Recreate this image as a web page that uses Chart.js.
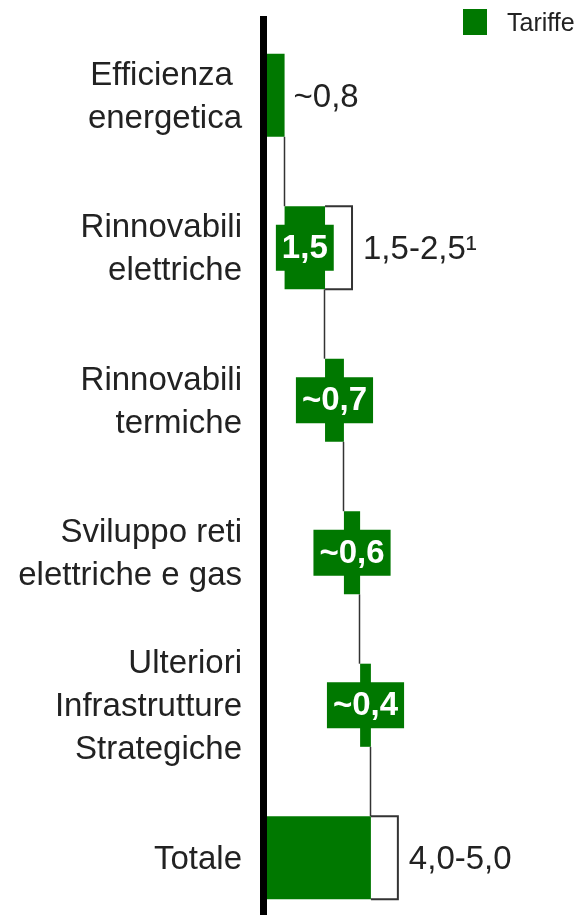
<!DOCTYPE html>
<html>
<head>
<meta charset="utf-8">
<script src="https://cdn.jsdelivr.net/npm/chart.js@4/dist/chart.umd.min.js"></script>
<style>
  body { margin: 0; background: #fff; overflow: hidden; }
  #wrap { position: relative; width: 584px; height: 934px; }
  #legend { position: absolute; left: 463px; top: 9px; height: 26px; display: flex; align-items: center;
            font-family: "Liberation Sans", Arial, sans-serif; font-size: 25px; color: #222; }
  #legend span.box { width: 24px; height: 26px; background: #007800; margin-right: 20px; }
</style>
</head>
<body>
<div id="wrap">
  <canvas id="myChart" width="584" height="934"></canvas>
  <div id="legend"><span class="box"></span><span>Tariffe</span></div>
</div>
<script>
const categories = [
  ['Efficienza ', 'energetica'],
  ['Rinnovabili', 'elettriche'],
  ['Rinnovabili', 'termiche'],
  ['Sviluppo reti', 'elettriche e gas'],
  ['Ulteriori', 'Infrastrutture', 'Strategiche'],
  ['Totale']
]
const steps = [0.8, 1.5, 0.7, 0.6, 0.4]
const total = 4.0
const valueLabels = ['~0,8', '1,5', '~0,7', '~0,6', '~0,4', '']
const rangeHigh = [null, 2.5, null, null, null, 5.0]
const rangeLabels = [null, '1,5-2,5\u00b9', null, null, null, '4,0-5,0']

const GREEN = '#007800'
const FONT = '"Liberation Sans", Arial, sans-serif'

// floating bars: each step starts where the previous one ended
let run = 0
const floating = steps.map(v => {
  const seg = [run, Math.round((run + v) * 100) / 100]
  run = seg[1]
  return seg
})
floating.push([0, total])

const stepPlugin = {
  id: 'steps',
  afterDatasetsDraw(chart) {
    const {ctx, scales: {x}} = chart
    const bars = chart.getDatasetMeta(0).data
    ctx.save()

    // connectors between steps
    ctx.strokeStyle = '#333'
    ctx.lineWidth = 1.5
    for (let i = 0; i < bars.length - 1; i++) {
      const a = bars[i].getProps(['x', 'y', 'height'], true)
      const b = bars[i + 1].getProps(['x', 'y', 'height'], true)
      const px = Math.round(a.x) - 0.5
      ctx.beginPath()
      ctx.moveTo(px, a.y + a.height / 2)
      ctx.lineTo(px, b.y - b.height / 2)
      ctx.stroke()
    }

    ctx.textBaseline = 'middle'
    bars.forEach((bar, i) => {
      const p = bar.getProps(['x', 'y', 'base', 'height'], true)
      const label = valueLabels[i]
      if (label && i === 0) {
        ctx.font = '33px ' + FONT
        ctx.fillStyle = '#222'
        ctx.textAlign = 'left'
        ctx.fillText(label, p.x + 9, p.y + 3)
      } else if (label) {
        ctx.font = 'bold 33px ' + FONT
        const w = ctx.measureText(label).width + 12
        const cx = (p.x + p.base) / 2
        ctx.fillStyle = GREEN
        ctx.fillRect(cx - w / 2, p.y - 23, w, 46)
        ctx.fillStyle = '#fff'
        ctx.textAlign = 'center'
        ctx.fillText(label, cx, p.y + 1)
      }

      if (rangeHigh[i] != null) {
        const rx = x.getPixelForValue(floating[i][0] + rangeHigh[i])
        const top = p.y - p.height / 2
        const bot = p.y + p.height / 2
        ctx.strokeStyle = '#333'
        ctx.lineWidth = 2
        ctx.beginPath()
        ctx.moveTo(p.x, top)
        ctx.lineTo(rx, top)
        ctx.lineTo(rx, bot)
        ctx.lineTo(p.x, bot)
        ctx.stroke()
        ctx.font = '33px ' + FONT
        ctx.fillStyle = '#222'
        ctx.textAlign = 'left'
        ctx.fillText(rangeLabels[i], rx + 11, p.y + 2)
      }
    })
    ctx.restore()
  }
}

new Chart(document.getElementById('myChart'), {
  type: 'bar',
  data: {
    labels: categories,
    datasets: [{
      label: 'Tariffe',
      data: floating,
      backgroundColor: GREEN,
      borderWidth: 0,
      barPercentage: 0.545,
      categoryPercentage: 1
    }]
  },
  options: {
    responsive: false,
    animation: false,
    devicePixelRatio: 1,
    indexAxis: 'y',
    layout: { padding: { top: 19, left: 0, right: 0, bottom: 0 } },
    plugins: {
      legend: { display: false },
      tooltip: { enabled: false }
    },
    scales: {
      x: { display: false, min: 0, max: 11.9 },
      y: {
        grid: { display: false, drawTicks: false },
        border: { display: true, width: 7, color: '#000', z: 1 },
        ticks: {
          padding: 21,
          labelOffset: 2,
          color: '#222',
          font: { family: FONT, size: 33, lineHeight: 1.3 }
        },
        afterFit(scale) {
          scale.width = 263
          scale.paddingTop = 0
          scale.paddingBottom = 0
        }
      }
    }
  },
  plugins: [stepPlugin]
})
</script>
</body>
</html>
